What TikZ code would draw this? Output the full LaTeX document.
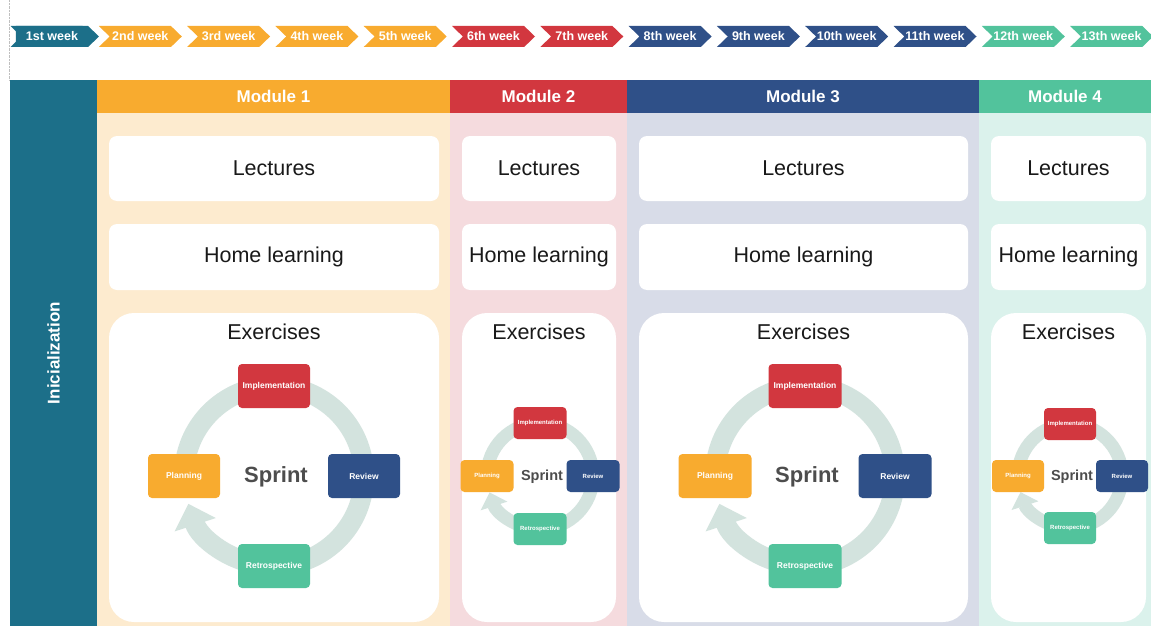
\documentclass[tikz,border=0pt]{standalone}
\usepackage{fontspec}
\setmainfont{Liberation Sans}
\usetikzlibrary{shapes.symbols,arrows.meta}

\definecolor{initteal}{HTML}{1C6F89}
\definecolor{modorange}{HTML}{F8AB2F}
\definecolor{modred}{HTML}{D2373F}
\definecolor{modblue}{HTML}{2F5088}
\definecolor{modgreen}{HTML}{52C39C}
\definecolor{bgorange}{HTML}{FDEBCF}
\definecolor{bgred}{HTML}{F5DBDE}
\definecolor{bgblue}{HTML}{D8DCE8}
\definecolor{bggreen}{HTML}{DBF2EC}
\definecolor{ringc}{HTML}{D3E3DE}
\definecolor{sprintgray}{HTML}{4D4D4D}

\begin{document}
\begin{tikzpicture}[x=1pt,y=-1pt,
	week/.style={shape=signal, signal to=east, signal from=west, signal pointer angle=88,
		minimum width=83, minimum height=21, inner sep=0pt, text=white,
		font=\fontsize{12.5}{14}\selectfont\bfseries},
	head/.style={minimum height=33, inner sep=0pt, text=white,
		font=\fontsize{17}{19}\selectfont\bfseries},
	card/.style={fill=white, rounded corners=8pt, inner sep=0pt, text=black!90,
		font=\fontsize{21.5}{24}\selectfont},
	phase/.style={rounded corners=4pt, inner sep=0pt, text=white},
	ring/.style={draw=ringc, -{Triangle[length=0pt 1.1,width=0pt 2.1]}}]
\useasboundingbox (0,0) rectangle (1151,626);

% weeks
\draw[black!25, densely dotted] (9,0) -- (9,80);
\foreach \i/\lab/\c in {0/1st/initteal,1/2nd/modorange,2/3rd/modorange,3/4th/modorange,
	4/5th/modorange,5/6th/modred,6/7th/modred,7/8th/modblue,8/9th/modblue,
	9/10th/modblue,10/11th/modblue,11/12th/modgreen,12/13th/modgreen}
	\node[week, fill=\c] (w\i) at ({52+88.3*\i},36.5) {\lab\ week};
\node[week, signal from=nowhere, fill=initteal] (w0) at (52,36.5) {1st week};

% inicialization bar
\node[fill=initteal, rotate=90, minimum width=546, minimum height=87, inner sep=0pt,
	text=white, font=\fontsize{17}{19}\selectfont\bfseries] (init) at (53.5,353) {Inicialization};

% modules
\foreach \n/\xl/\xr/\cl/\cr/\c/\bg in {1/97/450/109/439/modorange/bgorange,
	2/450/627/462/616/modred/bgred, 3/627/979/639/968/modblue/bgblue,
	4/979/1151/991/1146/modgreen/bggreen}
{
	\fill[\bg] (\xl,113) rectangle (\xr,626);
	\node[head, fill=\c, minimum width=\xr-\xl] (m\n) at ({(\xl+\xr)/2},96.5) {Module \n};
	\node[card, minimum width=\cr-\cl, minimum height=65] (lec\n) at ({(\cl+\cr)/2},168.5) {Lectures};
	\node[card, minimum width=\cr-\cl, minimum height=66] (home\n) at ({(\cl+\cr)/2},257) {Home learning};
	\node[card, rounded corners=25pt, minimum width=\cr-\cl, minimum height=309] (ex\n) at ({(\cl+\cr)/2},467.5) {};
	\node[card, fill=none] (extitle\n) at ({(\cl+\cr)/2},332) {Exercises};
}

% sprint cycles
\foreach \n/\cx/\r/\bw/\bh/\fs/\sf/\rw in {1/274/90/72/44/8.5/22/20, 2/540/53/53/32/6/14.5/13,
	3/805/90/73/44/8.5/22/20, 4/1070/52/52/32/6/14.5/13}
{
	\node[text=sprintgray, font=\fontsize{\sf}{\sf}\selectfont\bfseries] (s\n) at (\cx+2,477) {Sprint};
	\draw[ring, line width=\rw] ([shift={(185:\r)}]\cx,476) arc[start angle=185, end angle=522, radius=\r];
	\node[phase, fill=modred, minimum width=\bw, minimum height=\bh,
		font=\fontsize{\fs}{\fs}\selectfont\bfseries] (impl\n) at ([shift={(270:\r)}]\cx,476) {Implementation};
	\node[phase, fill=modorange, minimum width=\bw, minimum height=\bh,
		font=\fontsize{\fs}{\fs}\selectfont\bfseries] (plan\n) at ([shift={(180:\r)}]\cx,476) {Planning};
	\node[phase, fill=modblue, minimum width=\bw, minimum height=\bh,
		font=\fontsize{\fs}{\fs}\selectfont\bfseries] (rev\n) at ([shift={(0:\r)}]\cx,476) {Review};
	\node[phase, fill=modgreen, minimum width=\bw, minimum height=\bh,
		font=\fontsize{\fs}{\fs}\selectfont\bfseries] (retro\n) at ([shift={(90:\r)}]\cx,476) {Retrospective};
}
\end{tikzpicture}
\end{document}
